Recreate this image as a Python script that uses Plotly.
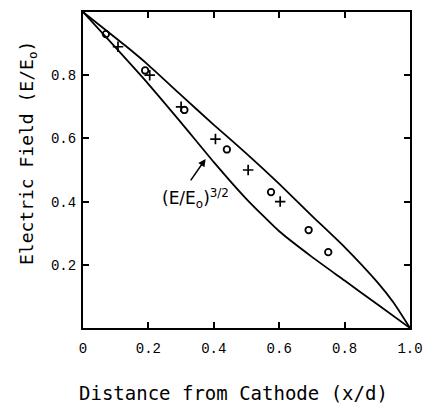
import plotly.graph_objects as go

# Curves
upper_x = [0, 0.13, 0.2, 0.3, 0.4, 0.5, 0.6, 0.7, 0.8, 0.9, 0.95, 1.0]
upper_y = [1.0, 0.893, 0.832, 0.737, 0.643, 0.552, 0.456, 0.355, 0.256, 0.145, 0.08, 0.0]
lower_x = [0, 0.1, 0.2, 0.3, 0.4, 0.5, 0.6, 0.7, 0.8, 0.9, 1.0]
lower_y = [1.0, 0.887, 0.772, 0.65, 0.525, 0.408, 0.306, 0.225, 0.15, 0.075, 0.0]

# Data points
circle_x = [0.07, 0.19, 0.31, 0.44, 0.575, 0.69, 0.75]
circle_y = [0.93, 0.815, 0.69, 0.565, 0.43, 0.31, 0.24]
plus_x = [0.107, 0.204, 0.30, 0.405, 0.505, 0.603]
plus_y = [0.89, 0.80, 0.70, 0.598, 0.50, 0.40]

# Tick labels
x_tickvals = [0, 0.2, 0.4, 0.6, 0.8, 1.0]
x_ticktext = ["0", "0.2", "0.4", "0.6", "0.8", "1.0"]
y_tickvals = [0.2, 0.4, 0.6, 0.8]
y_ticktext = ["0.2", "0.4", "0.6", "0.8"]

fig = go.Figure()
fig.add_trace(go.Scatter(x=upper_x, y=upper_y, mode="lines", line=dict(color="black", width=1.8, shape="spline", smoothing=0.5), showlegend=False))
fig.add_trace(go.Scatter(x=lower_x, y=lower_y, mode="lines", line=dict(color="black", width=1.8, shape="spline", smoothing=0.5), showlegend=False))
fig.add_trace(go.Scatter(x=circle_x, y=circle_y, mode="markers",
                         marker=dict(symbol="circle-open", size=6.5, color="black", line=dict(width=1.8)), showlegend=False))
fig.add_trace(go.Scatter(x=plus_x, y=plus_y, mode="markers",
                         marker=dict(symbol="cross-thin", size=7.5, color="black", line=dict(width=1.7, color="black")), showlegend=False))

tick_font = dict(family="Liberation Mono", size=14, color="black")
fig.update_xaxes(range=[0, 1.0], tickvals=x_tickvals, ticktext=x_ticktext, ticks="inside", ticklen=6, tickwidth=1.5,
                 tickcolor="black", showline=True, linewidth=2, linecolor="black", mirror="allticks",
                 showgrid=False, zeroline=False, tickfont=tick_font, ticklabelstandoff=6)
fig.update_yaxes(range=[0, 1.0], tickvals=y_tickvals, ticktext=y_ticktext, ticks="inside", ticklen=6, tickwidth=1.5,
                 tickcolor="black", showline=True, linewidth=2, linecolor="black", mirror="allticks",
                 showgrid=False, zeroline=False, tickfont=tick_font, ticklabelstandoff=2)

title_font = dict(family="DejaVu Sans Mono", size=19, color="black")
fig.add_annotation(text="Distance from Cathode (x/d)", xref="paper", yref="paper", x=0.46, y=-0.205,
                   showarrow=False, font=title_font, xanchor="center", yanchor="middle")
fig.add_annotation(text="Electric Field (E/E<sub>o</sub>)", xref="paper", yref="paper", x=-0.17, y=0.555,
                   showarrow=False, font=dict(family="DejaVu Sans Mono", size=18, color="black"),
                   textangle=-90, xanchor="center", yanchor="middle")
fig.add_annotation(text="(E/E<sub>o</sub>)<sup>3/2</sup>", xref="x", yref="y", x=0.345, y=0.41,
                   showarrow=False, font=dict(family="DejaVu Sans", size=17, color="black"))
fig.add_annotation(text="", xref="x", yref="y", x=0.375, y=0.535, ax=-16, ay=23,
                   showarrow=True, arrowhead=2, arrowsize=1, arrowwidth=1.5, arrowcolor="black")

fig.update_layout(width=433, height=404, margin=dict(l=83, r=19, t=10, b=76),
                  plot_bgcolor="white", paper_bgcolor="white")
fig.write_html("out.html")
